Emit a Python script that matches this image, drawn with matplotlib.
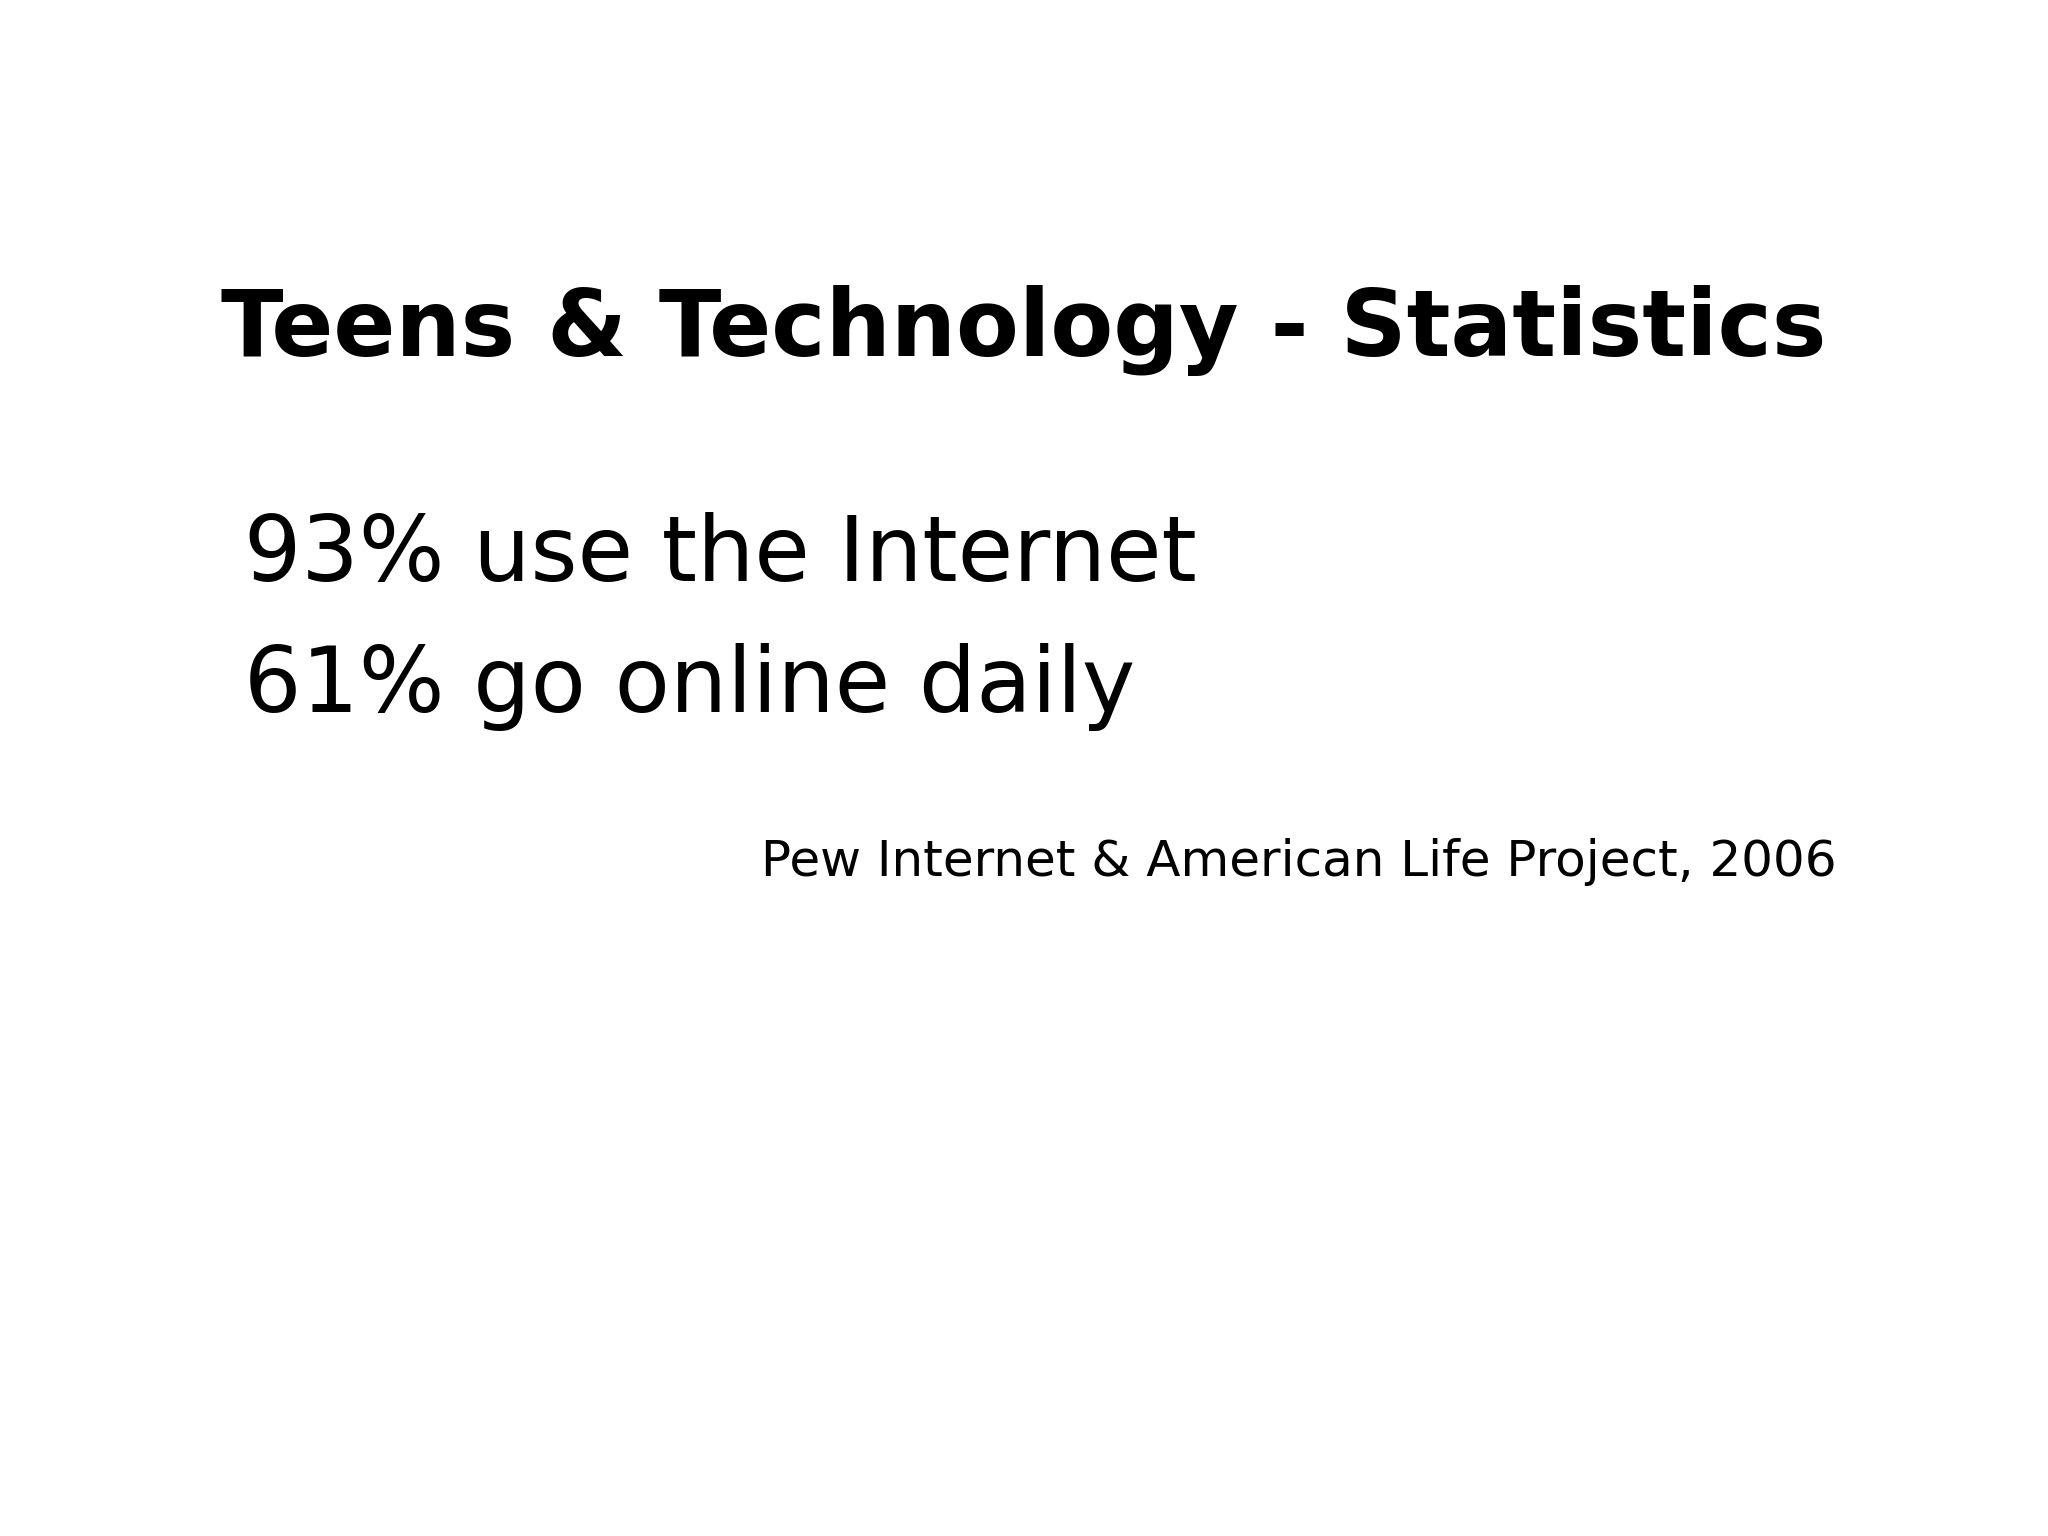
import matplotlib
matplotlib.use("Agg")
import matplotlib.pyplot as plt

title = "Teens & Technology - Statistics"
stats = ["93% use the Internet", "61% go online daily"]
source = "Pew Internet & American Life Project, 2006"

fig = plt.figure(figsize=(20.48, 15.36), dpi=100)
fig.patch.set_facecolor("white")

fig.text(0.5, 0.785, title, ha="center", va="center",
         fontsize=66, fontweight="bold", family="DejaVu Sans")

ys = [0.638, 0.553]
for s, y in zip(stats, ys):
    fig.text(0.119, y, s, ha="left", va="center", fontsize=65, family="DejaVu Sans")

fig.text(0.897, 0.439, source, ha="right", va="center", fontsize=36, family="DejaVu Sans")

fig.savefig("out.png", dpi=100)
